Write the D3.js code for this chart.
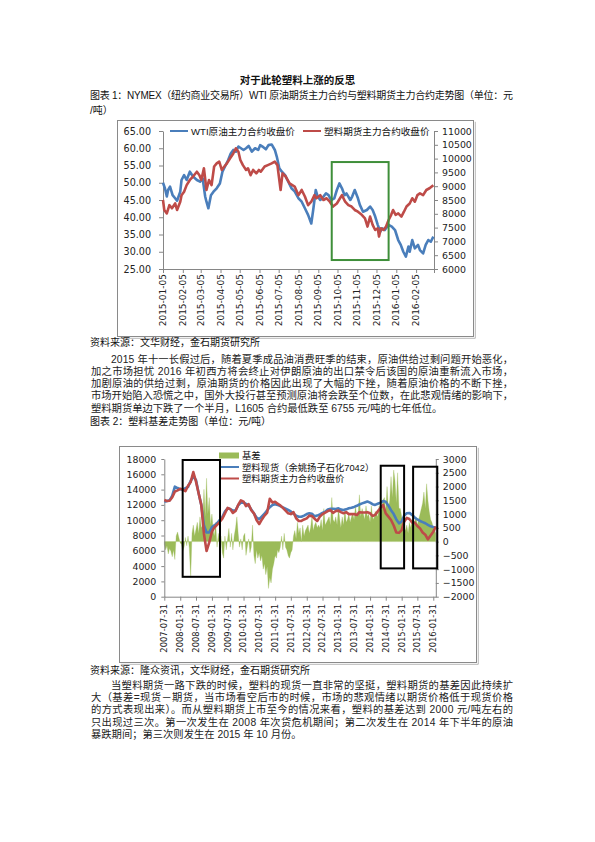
<!DOCTYPE html>
<html><head><meta charset="utf-8">
<script src="https://cdn.jsdelivr.net/npm/d3@7"></script>
<style>body{margin:0;background:#fff}svg{display:block}</style>
</head><body>
<svg id="page" width="595" height="842"></svg>
<script>
// ---------------- DATA : chart 1 ----------------
const chart1Ticks = ["2015-01-05","2015-02-05","2015-03-05","2015-04-05","2015-05-05","2015-06-05","2015-07-05","2015-08-05","2015-09-05","2015-10-05","2015-11-05","2015-12-05","2016-01-05","2016-02-05"];
const chart1LeftTicks = [25,30,35,40,45,50,55,60,65];
const chart1RightTicks = [6000,6500,7000,7500,8000,8500,9000,9500,10000,10500,11000];
const wtiSeries = [["2015-01-05",50.0],["2015-01-08",48.4],["2015-01-11",46.0],["2015-01-13",47.9],["2015-01-16",48.9],["2015-01-20",46.4],["2015-01-24",45.5],["2015-01-27",44.8],["2015-02-01",47.4],["2015-02-03",50.8],["2015-02-07",52.2],["2015-02-11",50.8],["2015-02-16",53.2],["2015-02-21",51.8],["2015-02-27",50.8],["2015-03-04",50.3],["2015-03-08",51.3],["2015-03-12",46.0],["2015-03-14",44.5],["2015-03-17",42.6],["2015-03-21",46.4],["2015-03-25",47.4],["2015-03-30",48.4],["2015-04-04",49.8],["2015-04-08",53.2],["2015-04-12",54.7],["2015-04-17",56.6],["2015-04-21",58.5],["2015-04-25",59.5],["2015-04-29",59.0],["2015-05-03",60.5],["2015-05-07",60.0],["2015-05-11",59.5],["2015-05-15",60.0],["2015-05-19",60.7],["2015-05-24",59.0],["2015-05-29",60.0],["2015-06-03",59.5],["2015-06-06",60.9],["2015-06-11",60.3],["2015-06-15",59.7],["2015-06-19",60.9],["2015-06-24",61.1],["2015-06-29",59.5],["2015-07-02",57.6],["2015-07-06",54.2],["2015-07-10",53.2],["2015-07-15",52.2],["2015-07-20",50.3],["2015-07-25",48.4],["2015-07-30",47.5],["2015-08-05",45.5],["2015-08-10",44.5],["2015-08-15",42.6],["2015-08-20",40.7],["2015-08-25",38.2],["2015-08-28",42.1],["2015-09-01",47.9],["2015-09-04",46.0],["2015-09-08",45.0],["2015-09-13",46.0],["2015-09-17",46.9],["2015-09-21",46.4],["2015-09-25",45.0],["2015-09-30",45.5],["2015-10-04",47.9],["2015-10-08",49.8],["2015-10-12",48.4],["2015-10-16",46.4],["2015-10-19",46.9],["2015-10-25",45.0],["2015-10-28",46.0],["2015-11-01",47.9],["2015-11-06",45.5],["2015-11-09",43.6],["2015-11-14",41.6],["2015-11-20",42.1],["2015-11-25",43.1],["2015-11-29",42.1],["2015-12-03",40.2],["2015-12-07",37.8],["2015-12-11",35.8],["2015-12-14",36.8],["2015-12-18",36.3],["2015-12-24",37.8],["2015-12-29",37.3],["2016-01-03",36.3],["2016-01-08",33.4],["2016-01-12",32.0],["2016-01-16",30.0],["2016-01-20",28.6],["2016-01-24",31.5],["2016-01-26",30.0],["2016-01-30",33.4],["2016-02-03",31.0],["2016-02-08",32.0],["2016-02-11",30.5],["2016-02-16",29.5],["2016-02-20",32.0],["2016-02-24",33.4],["2016-02-28",32.9],["2016-03-03",34.4]];
const plasticSeries = [["2015-01-05",8500],["2015-01-07",8138],["2015-01-11",8013],["2015-01-15",8313],["2015-01-19",8200],["2015-01-24",8375],["2015-01-27",8138],["2015-02-01",8438],["2015-02-03",8675],["2015-02-07",8800],["2015-02-11",9038],["2015-02-16",9225],["2015-02-21",9350],["2015-02-27",9525],["2015-03-03",9400],["2015-03-06",9225],["2015-03-10",9650],["2015-03-14",8863],["2015-03-18",9225],["2015-03-22",9038],["2015-03-26",9713],["2015-03-30",9825],["2015-04-03",9888],["2015-04-07",9588],["2015-04-11",9713],["2015-04-15",9825],["2015-04-20",10013],["2015-04-25",10188],["2015-04-29",10375],["2015-05-03",10250],["2015-05-06",9950],["2015-05-10",9763],["2015-05-15",9588],["2015-05-18",9650],["2015-05-22",9400],["2015-05-26",9588],["2015-05-31",9463],["2015-06-04",9588],["2015-06-07",9525],["2015-06-13",9713],["2015-06-18",9763],["2015-06-24",9825],["2015-06-29",9888],["2015-07-03",9763],["2015-07-06",9225],["2015-07-08",8863],["2015-07-11",9463],["2015-07-16",9350],["2015-07-22",9100],["2015-07-30",8988],["2015-08-05",8675],["2015-08-10",8863],["2015-08-15",8625],["2015-08-20",8313],["2015-08-25",8438],["2015-08-30",8675],["2015-09-02",8563],["2015-09-08",8675],["2015-09-13",8500],["2015-09-18",8563],["2015-09-23",8438],["2015-09-28",8263],["2015-10-04",8375],["2015-10-09",8563],["2015-10-12",8675],["2015-10-17",8438],["2015-10-22",8313],["2015-10-27",8263],["2015-11-01",8138],["2015-11-06",8075],["2015-11-12",7963],["2015-11-17",7838],["2015-11-21",7538],["2015-11-25",7900],["2015-11-29",7600],["2015-12-03",7413],["2015-12-07",7475],["2015-12-09",7175],["2015-12-12",7475],["2015-12-16",7413],["2015-12-20",7538],["2015-12-24",7775],["2015-12-28",7963],["2015-12-31",8138],["2016-01-04",7963],["2016-01-08",8013],["2016-01-13",7900],["2016-01-17",8075],["2016-01-21",8263],["2016-01-26",8375],["2016-01-30",8563],["2016-02-03",8438],["2016-02-07",8675],["2016-02-11",8738],["2016-02-16",8675],["2016-02-21",8863],["2016-02-26",8925],["2016-03-03",9038]];
// highlight box (left-axis units)
const chart1Box = ["2015-09-26","2015-12-24",27.6,56.0];

// ---------------- DATA : chart 2 ----------------
const chart2Ticks = ["2007-07-31","2008-01-31","2008-07-31","2009-01-31","2009-07-31","2010-01-31","2010-07-31","2011-01-31","2011-07-31","2012-01-31","2012-07-31","2013-01-31","2013-07-31","2014-01-31","2014-07-31","2015-01-31","2015-07-31","2016-01-31"];
const chart2LeftTicks = [0,2000,4000,6000,8000,10000,12000,14000,16000,18000];
const chart2RightTicks = [-2000,-1500,-1000,-500,0,500,1000,1500,2000,2500,3000];
// month-end values, 2007-07 .. 2016-02
const spotValues = [12420,12500,12600,13200,14380,14200,
 14050,14000,14180,14350,15150,15690,15255,13500,12000,9300,8400,8400,
 9100,9320,9600,10000,10400,11115,11550,11450,11250,11300,11950,12300,
 12300,12130,11920,11400,10870,10350,10150,10500,10850,11300,11700,12000,
 12075,12000,11850,11680,11500,11330,11150,10850,10600,10460,10460,10600,
 10800,10900,10850,10500,10600,10750,10950,11115,11400,11500,11500,11470,
 11550,11380,11330,11420,11570,11640,11740,11880,12050,12200,12320,12450,
 12300,12100,12000,12150,12300,12500,12400,11900,11300,10800,10100,9590,
 9800,10600,10900,10950,10700,10350,10100,9900,9750,9600,9380,9200,
 9100,9050];
const futuresValues = [12640,12500,12550,13000,13730,13900,
 14100,14000,13800,14500,15000,16300,15040,13500,12000,8200,5970,7100,
 8500,9050,9400,9760,10200,10900,11600,11450,10950,11200,12000,12600,
 12420,11850,12100,11300,10900,10025,9500,10100,10600,11000,12800,12300,
 12400,12150,11950,11600,11250,10900,10800,11050,10250,9900,9900,10100,
 10240,10600,10550,10200,9900,10460,10800,11000,11200,11300,10950,11200,
 11250,11050,10900,11050,10800,10800,10800,10680,11050,11000,11000,11050,
 10900,10550,10700,11150,11600,12000,10900,10460,10025,9300,8400,8350,
 8700,9800,10300,10150,9700,9700,9250,8935,8400,8100,7500,8000,
 8500,9150];
// basis: 2007-07-31, then mid-month and month-end values 2007-08 .. 2016-02
const basisValues = [-100,
 -300,-150, -450,-250, -350,-550, -300,-650, 200,350,
 150,-50, -100,-350, -200,150, -150,200, -250,-1300, 300,600, 200,450, 700,300, 900,500, 600,1900, 900,2300, 1000,1600, 
 600,1000, 400,200, 700,-200, 300,-100, 200,-400, -600,200, -300,100, 480,-200, 300,-300, 200,500, 900,300, -200,100,
 -300,200, 300,-500, -200,100, -400,-200, 600,-500, -800,-300, -600,-400, -700,-500, -1000,-800, -1200,-900, -1700,-1300, -1500,-1000,
 -800,-500, -600,-300, -400,-200, 200,-300, 300,-200, -300,-500, -600,-400, -300,200, 400,100, 700,300, 500,0, 600,200,
 400,500, 600,300, 500,900, 400,600, 700,500, 600,500, 800,400, 1200,600, 700,800, 900,600, 1600,800, 700,900,
 600,1200, 800,500, 900,600, 1200,700, 800,1000, 700,900, 1000,800, 1300,900, 1000,1700, 900,1200, 1000,800, 1300,900,
 1000,700, 1300,900, 800,1100, 1000,900, 1300,1100, 1200,1500, 1600,1100, 2000,1200, 1500,2360, 1600,2600, 2200,1400, 2500,1200,
 1200,900, 700,500, 400,600, 300,700, 500,800, 600,700, 900,600, 800,1000, 1200,1400, 1800,1200, 2100,1500, 1100,800,
 700,500, 400,300];
// highlight boxes [start, end, low, high] in left-axis units
const chart2Boxes = [["2008-02-28","2009-05-04",2600,17870],["2014-06-03","2015-02-28",3700,17120],["2015-06-12","2016-03-17",3700,16990]];

// ---------------- TEXT ----------------
const titleText = "对于此轮塑料上涨的反思";
const caption1a = "图表 1：NYMEX（纽约商业交易所）WTI 原油期货主力合约与塑料期货主力合约走势图（单位：元";
const caption1b = "/吨）";
const source1 = "资料来源：文华财经，金石期货研究所";
const para1 = ["2015 年十一长假过后，随着夏季成品油消费旺季的结束，原油供给过剩问题开始恶化，",
 "加之市场担忧 2016 年初西方将会终止对伊朗原油的出口禁令后该国的原油重新流入市场，",
 "加剧原油的供给过剩，原油期货的价格因此出现了大幅的下挫，随着原油价格的不断下挫，",
 "市场开始陷入恐慌之中，国外大投行甚至预测原油将会跌至个位数，在此悲观情绪的影响下，",
 "塑料期货单边下跌了一个半月，L1605 合约最低跌至 6755 元/吨的七年低位。"];
const caption2 = "图表 2：塑料基差走势图（单位：元/吨）";
const source2 = "资料来源：隆众资讯，文华财经，金石期货研究所";
const para2 = ["当塑料期货一路下跌的时候，塑料的现货一直非常的坚挺，塑料期货的基差因此持续扩",
 "大（基差=现货－期货，当市场看空后市的时候，市场的悲观情绪以期货价格低于现货价格",
 "的方式表现出来）。而从塑料期货上市至今的情况来看，塑料的基差达到 2000 元/吨左右的",
 "只出现过三次。第一次发生在 2008 年次贷危机期间；第二次发生在 2014 年下半年的原油",
 "暴跌期间；第三次则发生在 2015 年 10 月份。"];
const legend1 = ["WTI原油主力合约收盘价","塑料期货主力合约收盘价"];
const legend2 = ["基差","塑料现货（余姚扬子石化7042）","塑料期货主力合约收盘价"];

// ---------------- DRAW ----------------
const CJK = '"Liberation Sans", "Noto Sans CJK SC", sans-serif';
const NUM = '"DejaVu Sans", sans-serif';
const BLUE = "#4a7ebb", RED = "#be4b48", GREEN = "#9bbb59";
const parse = d3.timeParse("%Y-%m-%d");
const svg = d3.select("#page");

function txt(x, y, s, o = {}) {
  const t = svg.append("text").attr("x", x).attr("y", y).text(s)
    .attr("font-family", o.family || CJK).attr("font-size", o.size || 10.5)
    .attr("font-weight", o.weight || 400).attr("fill", o.fill || "#111")
    .attr("text-anchor", o.anchor || "start");
  if (o.width) t.attr("textLength", o.width).attr("lengthAdjust", "spacing");
  return t;
}

// header texts
txt(297.5, 84, titleText, {anchor: "middle", weight: 700, size: 10.5});
txt(90, 99, caption1a, {size: 10, width: 423});
txt(90, 114, caption1b, {size: 10});

// ---------- chart 1 ----------
svg.append("rect").attr("x", 117.5).attr("y", 120.5).attr("width", 356).attr("height", 216)
  .attr("fill", "#fff").attr("stroke", "#8a8a8a").attr("stroke-width", 1);
svg.append("path").attr("d", "M474.5,121 V337.5 H118").attr("fill", "none").attr("stroke", "#b8b8b8").attr("stroke-width", 1).attr("transform", "translate(0.8,0.8)");

const x1 = d3.scaleTime().domain([parse("2015-01-05"), parse("2016-03-04")]).range([163, 434]);
const yL1 = d3.scaleLinear().domain([25, 65]).range([269, 131]);
const yR1 = d3.scaleLinear().domain([6000, 11000]).range([269, 131]);
const g1 = svg.append("g");

function styleAxis(g, size) {
  g.selectAll("path.domain").attr("stroke", "#868686");
  g.selectAll(".tick line").attr("stroke", "#868686");
  g.selectAll(".tick text").attr("font-family", NUM).attr("font-size", size).attr("fill", "#222");
}
const axL1 = g1.append("g").attr("transform", "translate(163,0)")
  .call(d3.axisLeft(yL1).tickValues(chart1LeftTicks).tickSize(4).tickSizeOuter(0).tickPadding(8).tickFormat(d3.format(".2f")));
styleAxis(axL1, 9.6);
const axR1 = g1.append("g").attr("transform", "translate(434,0)")
  .call(d3.axisRight(yR1).tickValues(chart1RightTicks).tickSize(4).tickSizeOuter(0).tickPadding(4).tickFormat(d3.format("d")));
styleAxis(axR1, 9.4);
const axB1 = g1.append("g").attr("transform", "translate(0,269)")
  .call(d3.axisBottom(x1).tickValues(chart1Ticks.map(parse).concat([x1.domain()[1]])).tickSize(4).tickSizeOuter(0).tickFormat(""));
styleAxis(axB1, 9);
chart1Ticks.forEach(t => {
  g1.append("text").attr("transform", `translate(${x1(parse(t))},274) rotate(-90)`)
    .attr("text-anchor", "end").attr("dy", "0.35em").attr("font-family", NUM).attr("font-size", 9)
    .attr("fill", "#222").text(t);
});

const line1L = d3.line().x(d => x1(parse(d[0]))).y(d => yL1(d[1]));
const line1R = d3.line().x(d => x1(parse(d[0]))).y(d => yR1(d[1]));
g1.append("path").datum(wtiSeries).attr("d", line1L).attr("fill", "none").attr("stroke", BLUE).attr("stroke-width", 2.6).attr("stroke-linejoin", "round");
g1.append("path").datum(plasticSeries).attr("d", line1R).attr("fill", "none").attr("stroke", RED).attr("stroke-width", 2.6).attr("stroke-linejoin", "round");

g1.append("rect").attr("x", x1(parse(chart1Box[0]))).attr("y", yL1(chart1Box[3]))
  .attr("width", x1(parse(chart1Box[1])) - x1(parse(chart1Box[0])))
  .attr("height", yL1(chart1Box[2]) - yL1(chart1Box[3]))
  .attr("fill", "none").attr("stroke", "#3f8f3a").attr("stroke-width", 2);

// legend 1
g1.append("line").attr("x1", 170).attr("x2", 188).attr("y1", 131).attr("y2", 131).attr("stroke", BLUE).attr("stroke-width", 2);
g1.append("text").attr("x", 191).attr("y", 134.5).attr("font-family", CJK).attr("font-size", 9.6).attr("fill", "#111").text(legend1[0]);
g1.append("line").attr("x1", 303).attr("x2", 321).attr("y1", 131).attr("y2", 131).attr("stroke", RED).attr("stroke-width", 2);
g1.append("text").attr("x", 324).attr("y", 134.5).attr("font-family", CJK).attr("font-size", 9.6).attr("fill", "#111").text(legend1[1]);

// middle texts
txt(90, 346, source1, {size: 10});
para1.forEach((s, i) => {
  const x = i === 0 ? 111 : 91;
  const last = i === para1.length - 1;
  txt(x, 362.5 + i * 12.3, s, {size: 10.3, width: last ? null : 513 - x, fill: "#222"});
});
txt(90, 425, caption2, {size: 10});

// ---------- chart 2 ----------
svg.append("rect").attr("x", 119.5).attr("y", 446.5).attr("width", 357).attr("height", 216)
  .attr("fill", "#fff").attr("stroke", "#8a8a8a").attr("stroke-width", 1);
svg.append("path").attr("d", "M477.5,447 V663.5 H120").attr("fill", "none").attr("stroke", "#b8b8b8").attr("stroke-width", 1).attr("transform", "translate(0.8,0.8)");

const x2 = d3.scaleTime().domain([parse("2007-07-31"), parse("2016-02-29")]).range([164.3, 435.8]);
const yL2 = d3.scaleLinear().domain([0, 18000]).range([596.7, 459]);
const yR2 = d3.scaleLinear().domain([-2000, 3000]).range([596.7, 459]);
const g2 = svg.append("g");

// month-end dates 2007-07 .. 2016-02
const monthEnds = d3.timeMonth.range(new Date(2007, 6, 1), new Date(2016, 2, 1))
  .map(d => d3.timeDay.offset(d3.timeMonth.offset(d, 1), -1));
const basisDates = [parse("2007-07-31")];
d3.timeMonth.range(new Date(2007, 7, 1), new Date(2016, 2, 1)).forEach(m => {
  basisDates.push(new Date(m.getFullYear(), m.getMonth(), 15));
  basisDates.push(d3.timeDay.offset(d3.timeMonth.offset(m, 1), -1));
});
const basisData = basisValues.map((v, i) => ({date: basisDates[i], v}));
const spotData = spotValues.map((v, i) => ({date: monthEnds[i], v}));
const futData = futuresValues.map((v, i) => ({date: monthEnds[i], v}));

g2.append("path").datum(basisData)
  .attr("d", d3.area().x(d => x2(d.date)).y0(yR2(0)).y1(d => yR2(d.v)))
  .attr("fill", GREEN).attr("stroke", GREEN).attr("stroke-width", 0.3);

const axL2 = g2.append("g").attr("transform", "translate(164.3,0)")
  .call(d3.axisLeft(yL2).tickValues(chart2LeftTicks).tickSize(3).tickSizeOuter(0).tickPadding(5).tickFormat(d3.format("d")));
styleAxis(axL2, 9.4);
const axR2 = g2.append("g").attr("transform", "translate(435.8,0)")
  .call(d3.axisRight(yR2).tickValues(chart2RightTicks).tickSize(3).tickSizeOuter(0).tickPadding(4).tickFormat(d3.format("d")));
styleAxis(axR2, 9.4);
const axB2 = g2.append("g").attr("transform", "translate(0,596.7)")
  .call(d3.axisBottom(x2).tickValues(chart2Ticks.map(parse)).tickSize(4).tickSizeOuter(0).tickFormat(""));
styleAxis(axB2, 8.5);
chart2Ticks.forEach(t => {
  g2.append("text").attr("transform", `translate(${x2(parse(t))},604) rotate(-90)`)
    .attr("text-anchor", "end").attr("dy", "0.35em").attr("font-family", NUM).attr("font-size", 8.4)
    .attr("fill", "#222").text(t);
});

const line2 = d3.line().x(d => x2(d.date)).y(d => yL2(d.v));
g2.append("path").datum(spotData).attr("d", line2).attr("fill", "none").attr("stroke", BLUE).attr("stroke-width", 2.6).attr("stroke-linejoin", "round");
g2.append("path").datum(futData).attr("d", line2).attr("fill", "none").attr("stroke", RED).attr("stroke-width", 2.6).attr("stroke-linejoin", "round");

chart2Boxes.forEach(b => {
  g2.append("rect").attr("x", x2(parse(b[0]))).attr("y", yL2(b[3]))
    .attr("width", x2(parse(b[1])) - x2(parse(b[0])))
    .attr("height", yL2(b[2]) - yL2(b[3]))
    .attr("fill", "none").attr("stroke", "#000").attr("stroke-width", 2);
});

// legend 2
g2.append("rect").attr("x", 219).attr("y", 452.5).attr("width", 20).attr("height", 6).attr("fill", GREEN);
g2.append("text").attr("x", 242).attr("y", 459).attr("font-family", CJK).attr("font-size", 9.3).attr("fill", "#111").text(legend2[0]);
g2.append("line").attr("x1", 221).attr("x2", 239).attr("y1", 467).attr("y2", 467).attr("stroke", BLUE).attr("stroke-width", 2);
g2.append("text").attr("x", 242).attr("y", 470.5).attr("font-family", CJK).attr("font-size", 9.3).attr("fill", "#111").text(legend2[1]);
g2.append("line").attr("x1", 221).attr("x2", 239).attr("y1", 478.5).attr("y2", 478.5).attr("stroke", RED).attr("stroke-width", 2);
g2.append("text").attr("x", 242).attr("y", 482).attr("font-family", CJK).attr("font-size", 9.3).attr("fill", "#111").text(legend2[2]);

// bottom texts
txt(90, 674, source2, {size: 10});
para2.forEach((s, i) => {
  const x = i === 0 ? 111 : 91;
  const last = i === para2.length - 1;
  txt(x, 689 + i * 12.2, s, {size: 10.3, width: last ? null : 513 - x, fill: "#222"});
});
</script>
</body></html>
